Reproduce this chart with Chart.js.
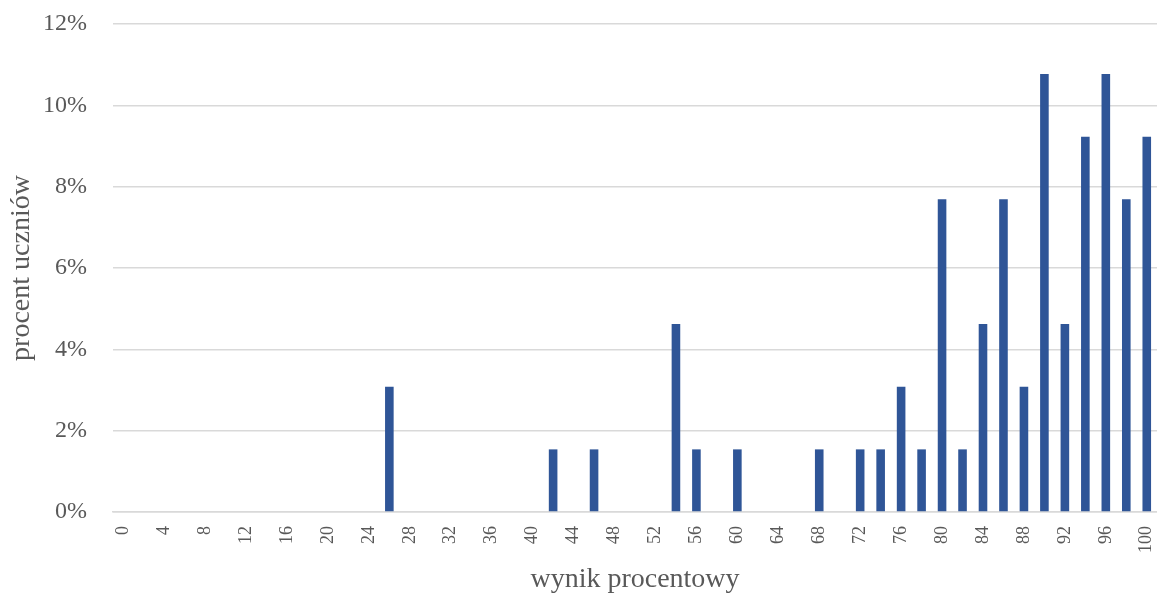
<!DOCTYPE html>
<html>
<head>
<meta charset="utf-8">
<script src="https://cdn.jsdelivr.net/npm/chart.js@4/dist/chart.umd.min.js"></script>
<style>
    html, body { margin: 0; padding: 0; background: #ffffff; }
    #wrap { width: 1157px; height: 598px; }
</style>
</head>
<body>
<div id="wrap"><canvas id="chart"></canvas></div>
<script>
// Score categories (percent result), 0..100 step 2
const scores = ["0","2","4","6","8","10","12","14","16","18","20","22","24","26","28","30","32","34","36","38","40",
    "42","44","46","48","50","52","54","56","58","60","62","64","66","68","70","72","74","76","78","80",
    "82","84","86","88","90","92","94","96","98","100"];

// Percent of students per score
const studentShare = [0,0,0,0,0,0,0,0,0,0,0,0,0,3.08,0,0,0,0,0,0,0,
    1.54,0,1.54,0,0,0,4.62,1.54,0,1.54,0,0,0,1.54,0,1.54,1.54,3.08,1.54,7.69,
    1.54,4.62,7.69,3.08,10.77,4.62,9.23,10.77,7.69,9.23];

// Y axis ticks (percent)
const yTicks = [0, 2, 4, 6, 8, 10, 12];

document.addEventListener("DOMContentLoaded", function() {
    const ctx = document.getElementById("chart").getContext("2d");
    const textColor = "#595959";
    const serif = "'Liberation Serif', 'Times New Roman', serif";

    new Chart(ctx, {
        type: "bar",
        data: {
            labels: scores,
            datasets: [{
                label: "procent uczniów",
                data: studentShare,
                backgroundColor: "#2F5597",
                barPercentage: 0.42,
                categoryPercentage: 1.0
            }]
        },
        options: {
            responsive: true,
            maintainAspectRatio: false,
            animation: false,
            layout: { padding: { top: 24, right: 0, bottom: 0, left: 0 } },
            plugins: {
                legend: { display: false },
                tooltip: { enabled: false }
            },
            scales: {
                x: {
                    grid: { display: false, drawTicks: false },
                    border: { display: true, color: "#d9d9d9", width: 1.5 },
                    ticks: {
                        autoSkip: false,
                        minRotation: 90,
                        maxRotation: 90,
                        padding: 14,
                        color: textColor,
                        font: { family: serif, size: 18 },
                        callback: function(value, index) {
                            return index % 2 === 0 ? scores[index] : "";
                        }
                    },
                    title: {
                        display: true,
                        text: "wynik procentowy",
                        color: textColor,
                        font: { family: serif, size: 28 },
                        padding: { top: 0, bottom: 2 }
                    },
                    afterFit: function(scale) {
                        scale.height = 86;
                        scale.paddingLeft = 0;
                        scale.paddingRight = 0;
                    }
                },
                y: {
                    min: 0,
                    max: 12,
                    afterBuildTicks: function(scale) {
                        scale.ticks = yTicks.map(v => ({ value: v }));
                    },
                    grid: { color: "#d9d9d9", lineWidth: 1.5, drawTicks: false },
                    border: { display: false },
                    ticks: {
                        padding: 26,
                        color: textColor,
                        font: { family: serif, size: 24 },
                        callback: function(value) { return value + "%"; }
                    },
                    title: {
                        display: true,
                        text: "procent uczniów",
                        color: textColor,
                        font: { family: serif, size: 28 },
                        padding: { top: 5, bottom: 0 }
                    },
                    afterFit: function(scale) {
                        scale.width = 113;
                        scale.paddingTop = 0;
                        scale.paddingBottom = 0;
                    }
                }
            }
        }
    });
});
</script>
</body>
</html>
